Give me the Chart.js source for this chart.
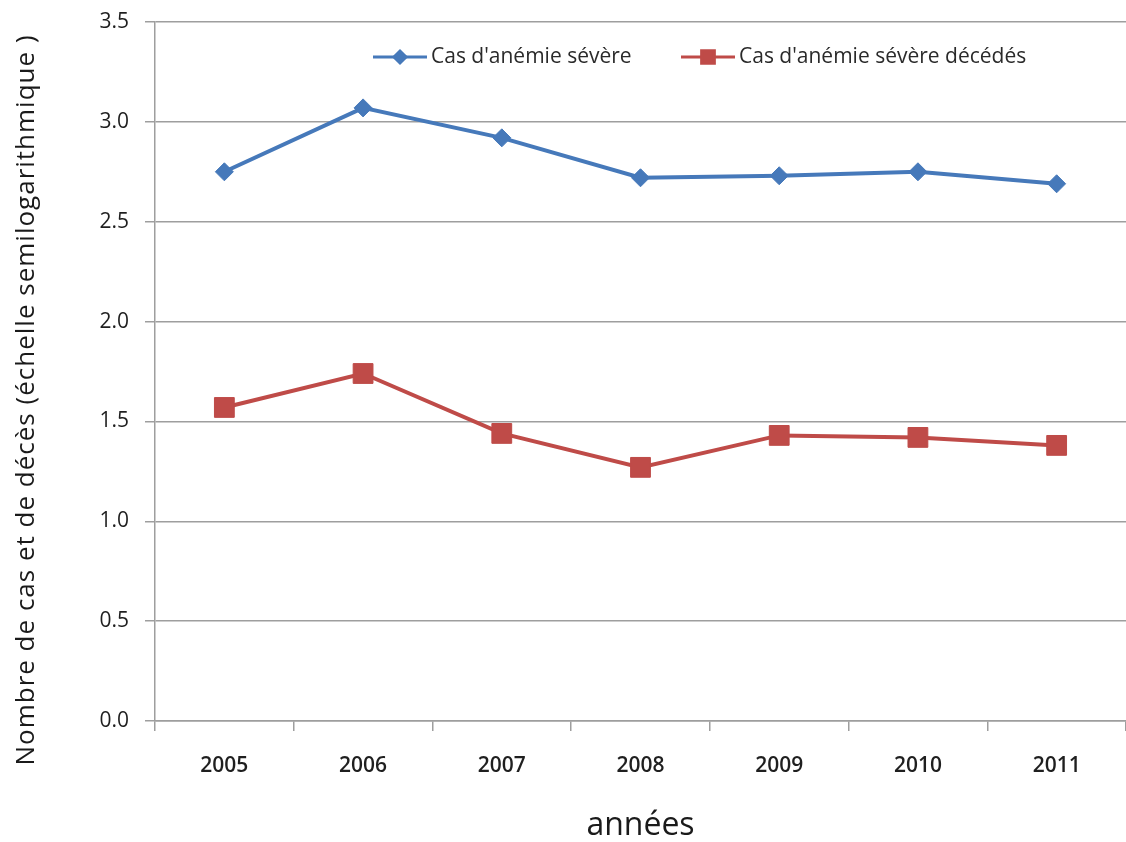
<!DOCTYPE html>
<html>
<head>
<meta charset="utf-8">
<title>Anémie sévère 2005–2011</title>
<script src="https://cdn.jsdelivr.net/npm/chart.js@4/dist/chart.umd.min.js"></script>
<style>
  html, body { margin: 0; padding: 0; background: #ffffff; }
  #wrap { width: 1126px; height: 842px; }
</style>
</head>
<body>
<div id="wrap"><canvas id="c" width="1126" height="842"></canvas></div>
<script>
// Years on the horizontal axis
const years = ['2005', '2006', '2007', '2008', '2009', '2010', '2011'];
// log10 of the yearly counts
const severeCases = [2.75, 3.07, 2.92, 2.72, 2.73, 2.75, 2.69];
const severeDeaths = [1.57, 1.74, 1.44, 1.27, 1.43, 1.42, 1.38];
// Vertical axis range and step
const yMin = 0;
const yMax = 3.5;
const yStep = 0.5;
const seriesNames = ["Cas d'anémie sévère", "Cas d'anémie sévère décédés"];
const yTitle = 'Nombre de cas et de décès (échelle semilogarithmique )';
const xTitle = 'années';

const FONT = "'Open Sans', 'DejaVu Sans', sans-serif";
const BLUE = '#4679BA';
const RED = '#BF4B48';
const GRID = '#9E9E9E';

// Legend drawn inside the plot: a short line with the series marker, then the name
const inlineLegend = {
  id: 'inlineLegend',
  afterDraw(chart) {
    const ctx = chart.ctx;
    const y = 57;
    const starts = [373, 681];
    ctx.save();
    chart.data.datasets.forEach((ds, i) => {
      const x0 = starts[i];
      ctx.strokeStyle = ds.borderColor;
      ctx.lineWidth = 3;
      ctx.beginPath();
      ctx.moveTo(x0, y);
      ctx.lineTo(x0 + 54, y);
      ctx.stroke();
      ctx.fillStyle = ds.pointBackgroundColor;
      ctx.strokeStyle = ds.pointBorderColor;
      Chart.helpers.drawPoint(ctx, {
        pointStyle: ds.pointStyle,
        radius: ds.pointStyle === 'rectRot' ? 6 : 9,
        rotation: 0,
        borderWidth: 1
      }, x0 + 27, y);
      ctx.fillStyle = '#2a2a2a';
      ctx.font = '21px ' + FONT;
      ctx.textAlign = 'left';
      ctx.textBaseline = 'middle';
      ctx.fillText(ds.label, x0 + 58, y);
    });
    ctx.restore();
  }
};

// Rotated title for the vertical axis
const verticalTitle = {
  id: 'verticalTitle',
  afterDraw(chart) {
    const ctx = chart.ctx;
    ctx.save();
    ctx.translate(34, 400);
    ctx.rotate(-Math.PI / 2);
    ctx.fillStyle = '#1a1a1a';
    ctx.font = '26px ' + FONT;
    ctx.letterSpacing = '1px';
    ctx.textAlign = 'center';
    ctx.textBaseline = 'alphabetic';
    ctx.fillText(yTitle, 0, 0);
    ctx.restore();
  }
};

new Chart(document.getElementById('c'), {
  type: 'line',
  data: {
    labels: years,
    datasets: [
      {
        label: seriesNames[0],
        data: severeCases,
        borderColor: BLUE,
        backgroundColor: BLUE,
        pointBackgroundColor: BLUE,
        pointBorderColor: BLUE,
        pointStyle: 'rectRot',
        pointRadius: 9,
        pointBorderWidth: 1,
        borderWidth: 4,
        tension: 0
      },
      {
        label: seriesNames[1],
        data: severeDeaths,
        borderColor: RED,
        backgroundColor: RED,
        pointBackgroundColor: RED,
        pointBorderColor: RED,
        pointStyle: 'rect',
        pointRadius: 14,
        pointBorderWidth: 1,
        borderWidth: 4,
        tension: 0
      }
    ]
  },
  options: {
    responsive: false,
    animation: false,
    devicePixelRatio: 1,
    layout: { autoPadding: false, padding: { top: 22, right: 0, bottom: 0, left: 0 } },
    plugins: {
      legend: { display: false },
      tooltip: { enabled: false }
    },
    scales: {
      x: {
        offset: true,
        grid: {
          offset: true,
          drawOnChartArea: false,
          drawTicks: true,
          tickLength: 10,
          color: GRID,
          lineWidth: 1.5
        },
        border: { color: GRID, width: 1.5 },
        ticks: {
          color: '#1f1f1f',
          font: { family: FONT, size: 21, weight: 600 },
          padding: 22,
          maxRotation: 0
        },
        title: {
          display: true,
          text: xTitle,
          color: '#1a1a1a',
          font: { family: FONT, size: 32 },
          padding: { top: 0, bottom: -3 }
        },
        afterFit(scale) {
          scale.height = 121;
          scale.paddingLeft = 0;
          scale.paddingRight = 0;
        }
      },
      y: {
        min: yMin,
        max: yMax,
        grid: {
          color: GRID,
          lineWidth: 1.5,
          drawTicks: true,
          tickLength: 10
        },
        border: { color: GRID, width: 1.5 },
        ticks: {
          stepSize: yStep,
          color: '#1f1f1f',
          font: { family: FONT, size: 21 },
          padding: 16,
          callback: (v) => Number(v).toFixed(1)
        },
        afterFit(scale) {
          scale.width = 155;
          scale.paddingTop = 0;
          scale.paddingBottom = 0;
        }
      }
    }
  },
  plugins: [inlineLegend, verticalTitle]
});
</script>
</body>
</html>
